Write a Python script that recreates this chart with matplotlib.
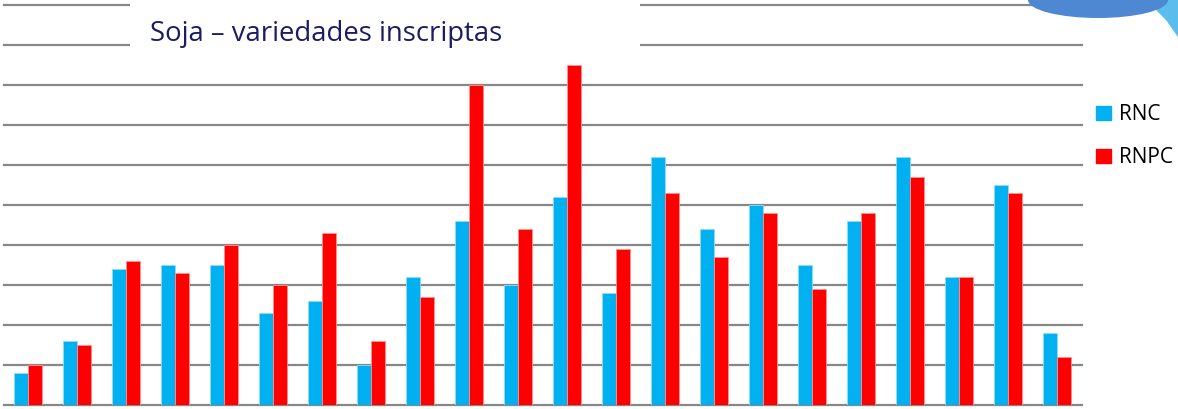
import matplotlib
matplotlib.use("Agg")
import matplotlib.pyplot as plt
import numpy as np
from matplotlib.patches import Rectangle, Ellipse, Polygon

# Soybean varieties registered per period: RNC vs RNPC
rnc = [8, 16, 34, 35, 35, 23, 26, 10, 32, 46, 30, 52, 28, 62, 44, 50, 35, 46, 62, 32, 55, 18]
rnpc = [10, 15, 36, 33, 40, 30, 43, 16, 27, 80, 44, 85, 39, 53, 37, 48, 29, 48, 57, 32, 53, 12]
series_names = ["RNC", "RNPC"]
series_colors = ["#00B0F0", "#FF0000"]
title = "Soja – variedades inscriptas"

W, H = 1178, 409
fig = plt.figure(figsize=(W / 100, H / 100), dpi=100)
ax = fig.add_axes([3.5 / W, 4.3 / H, (1081.5 - 3.5) / W, 400 / H])

x = np.arange(len(rnc))
bw = 14 / 49
ax.bar(x - bw / 2, rnc, width=bw, color=series_colors[0], edgecolor="#8fdcf8",
       linewidth=0.6, zorder=3, label=series_names[0])
ax.bar(x + bw / 2, rnpc, width=bw, color=series_colors[1], edgecolor="#ff9090",
       linewidth=0.6, zorder=3, label=series_names[1])

ax.set_xlim(-0.5, len(rnc) - 0.5)
ax.set_ylim(0, 100)
ax.set_yticks(np.arange(0, 101, 10))
ax.yaxis.grid(True, color="#878787", linewidth=1.6, zorder=1)
for gl in ax.get_ygridlines():
    gl.set_clip_on(False)
ax.set_axisbelow(True)
ax.tick_params(left=False, bottom=False, labelleft=False, labelbottom=False)
for s in ax.spines.values():
    s.set_visible(False)

# white title panel over the upper gridlines
fig.patches.append(Rectangle((130 / W, 1 - 62 / H), 510 / W, 62 / H,
                             transform=fig.transFigure, facecolor="white",
                             edgecolor="none", zorder=5))
fig.text(150 / W, 1 - 34 / H, title, fontsize=19.8, color="#1C1C64",
         family="Open Sans", va="center", ha="left", zorder=6)

# decorative swoosh in the top-right corner
fig.patches.append(Polygon([(1146 / W, 1), (1 + 2 / W, 1), (1 + 2 / W, 1 - 40 / H),
                            (1166 / W, 1 - 20 / H)],
                           closed=True, transform=fig.transFigure,
                           facecolor="#5BBDEB", edgecolor="none", zorder=4))
fig.patches.append(Ellipse((1098 / W, 1 - 0 / H), 140 / W, 36 / H,
                           transform=fig.transFigure, facecolor="#4F88D2",
                           edgecolor="none", zorder=4))

# legend
handles = [Rectangle((0, 0), 1, 1, color=c) for c in series_colors]
fig.legend(handles, series_names, loc="upper left",
           bbox_to_anchor=(1088 / W, 1 - 96 / H), frameon=False,
           prop={"family": "Open Sans", "size": 15}, handlelength=0.68,
           handleheight=0.68, handletextpad=0.4, labelspacing=1.05,
           borderaxespad=0)

fig.savefig("out.png", dpi=100)
